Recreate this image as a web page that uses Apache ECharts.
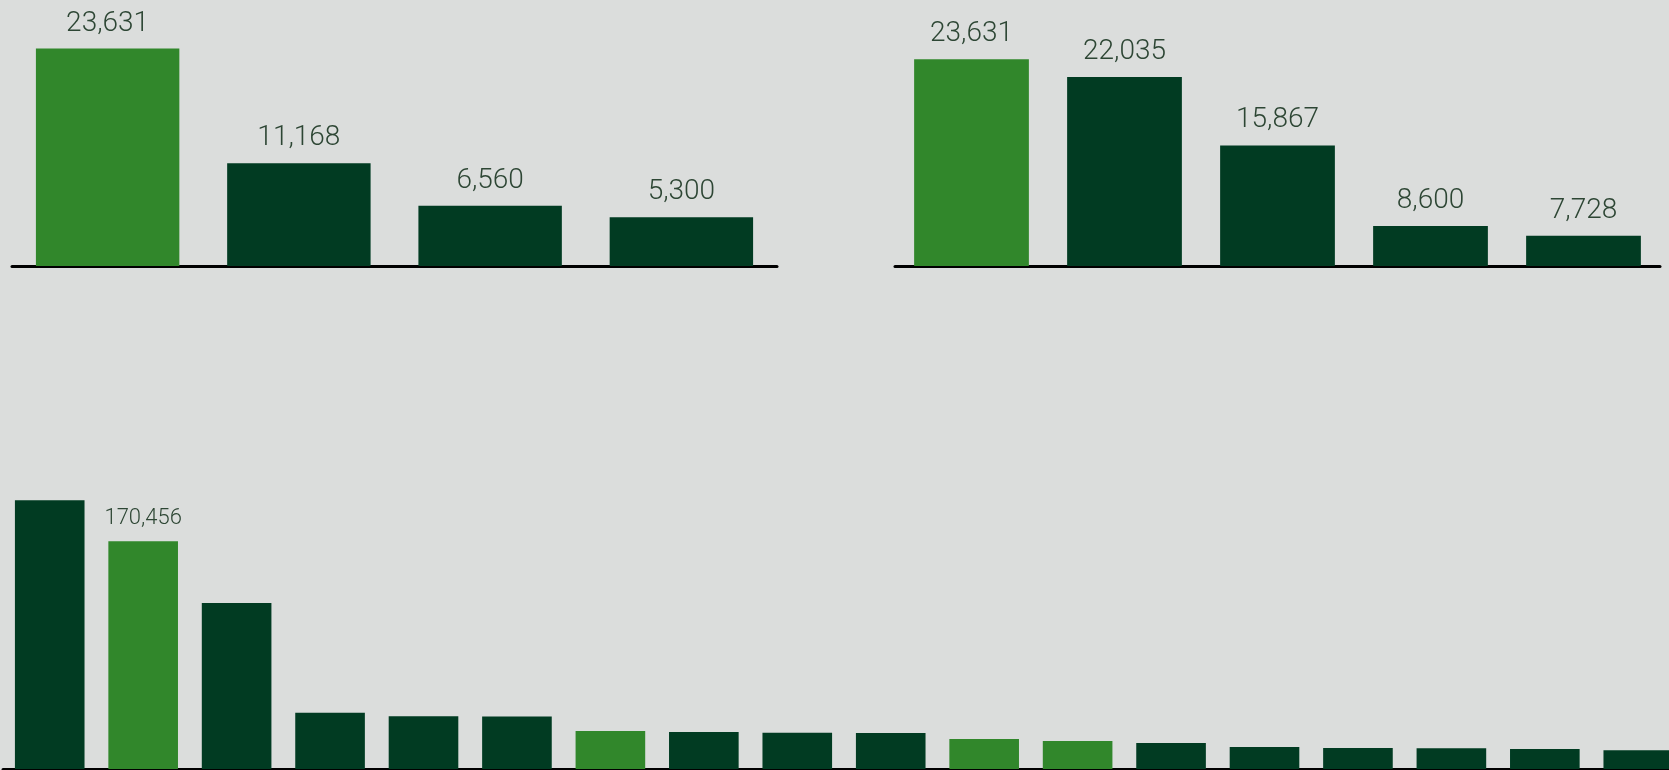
<!DOCTYPE html>
<html>
<head>
<meta charset="utf-8">
<script src="https://cdn.jsdelivr.net/npm/echarts@6/dist/echarts.min.js"></script>
<style>
  html, body { margin: 0; padding: 0; background: #dbdddc; }
  #chart { width: 1669px; height: 770px; }
</style>
</head>
<body>
<div id="chart"></div>
<script>
// data
var topLeftCats = ['A', 'B', 'C', 'D'];
var topLeftValues = [23631, 11168, 6560, 5300];
var topLeftHighlight = [0];

var topRightCats = ['A', 'B', 'C', 'D', 'E'];
var topRightValues = [23631, 22035, 15867, 8600, 7728];
var topRightHighlight = [0];

var bottomCats = ['1', '2', '3', '4', '5', '6', '7', '8', '9', '10', '11', '12', '13', '14', '15', '16', '17', '18'];
var bottomValues = [201100, 170456, 124300, 42100, 39400, 39300, 28400, 27650, 27150, 26900,
                    22400, 20900, 19450, 16450, 15700, 15450, 14950, 13950];
var bottomHighlight = [1, 6, 10, 11];
var bottomLabelled = [1];

var LIGHT = '#31872b';
var DARK = '#013b22';
var TEXT = '#2d4634';

function fmt(v) {
  return String(v).replace(/\B(?=(\d{3})+(?!\d))/g, ',');
}

function items(values, highlight, labelled) {
  return values.map(function (v, i) {
    var it = {
      value: v,
      itemStyle: { color: highlight.indexOf(i) >= 0 ? LIGHT : DARK }
    };
    if (labelled) {
      it.label = { show: labelled.indexOf(i) >= 0 };
    }
    return it;
  });
}

function xAxis(idx, cats) {
  return {
    type: 'category', gridIndex: idx, data: cats,
    axisLine: { show: true, onZero: false, lineStyle: { color: '#000', width: 3 } },
    axisTick: { show: false },
    axisLabel: { show: false }
  };
}
function yAxis(idx, min, max) {
  return {
    type: 'value', gridIndex: idx, min: min, max: max, show: false,
    splitLine: { show: false }
  };
}
function label(size, dist) {
  return {
    show: true, position: 'top', distance: dist,
    color: TEXT, fontFamily: 'Roboto', fontWeight: 300, fontSize: size,
    formatter: function (p) { return fmt(p.value); }
  };
}

var myChart = echarts.init(document.getElementById('chart'));
var option = {
  backgroundColor: '#dbdddc',
  animation: false,
  grid: [
    { left: 12, top: 36, width: 765, height: 230, outerBoundsMode: 'none' },
    { left: 895, top: 44, width: 765, height: 222, outerBoundsMode: 'none' },
    { left: 3, top: 435, width: 1682, height: 334, outerBoundsMode: 'none' }
  ],
  xAxis: [xAxis(0, topLeftCats), xAxis(1, topRightCats), xAxis(2, bottomCats)],
  yAxis: [yAxis(0, 0, 25000), yAxis(1, 5000, 25000), yAxis(2, 0, 250000)],
  series: [
    {
      type: 'bar', xAxisIndex: 0, yAxisIndex: 0, barCategoryGap: '25%',
      data: items(topLeftValues, topLeftHighlight),
      label: label(28, 11)
    },
    {
      type: 'bar', xAxisIndex: 1, yAxisIndex: 1, barCategoryGap: '25%',
      data: items(topRightValues, topRightHighlight),
      label: label(28, 11)
    },
    {
      type: 'bar', xAxisIndex: 2, yAxisIndex: 2, barCategoryGap: '25.5%',
      data: items(bottomValues, bottomHighlight, bottomLabelled),
      label: label(22, 12)
    }
  ]
};
myChart.setOption(option);
</script>
</body>
</html>
